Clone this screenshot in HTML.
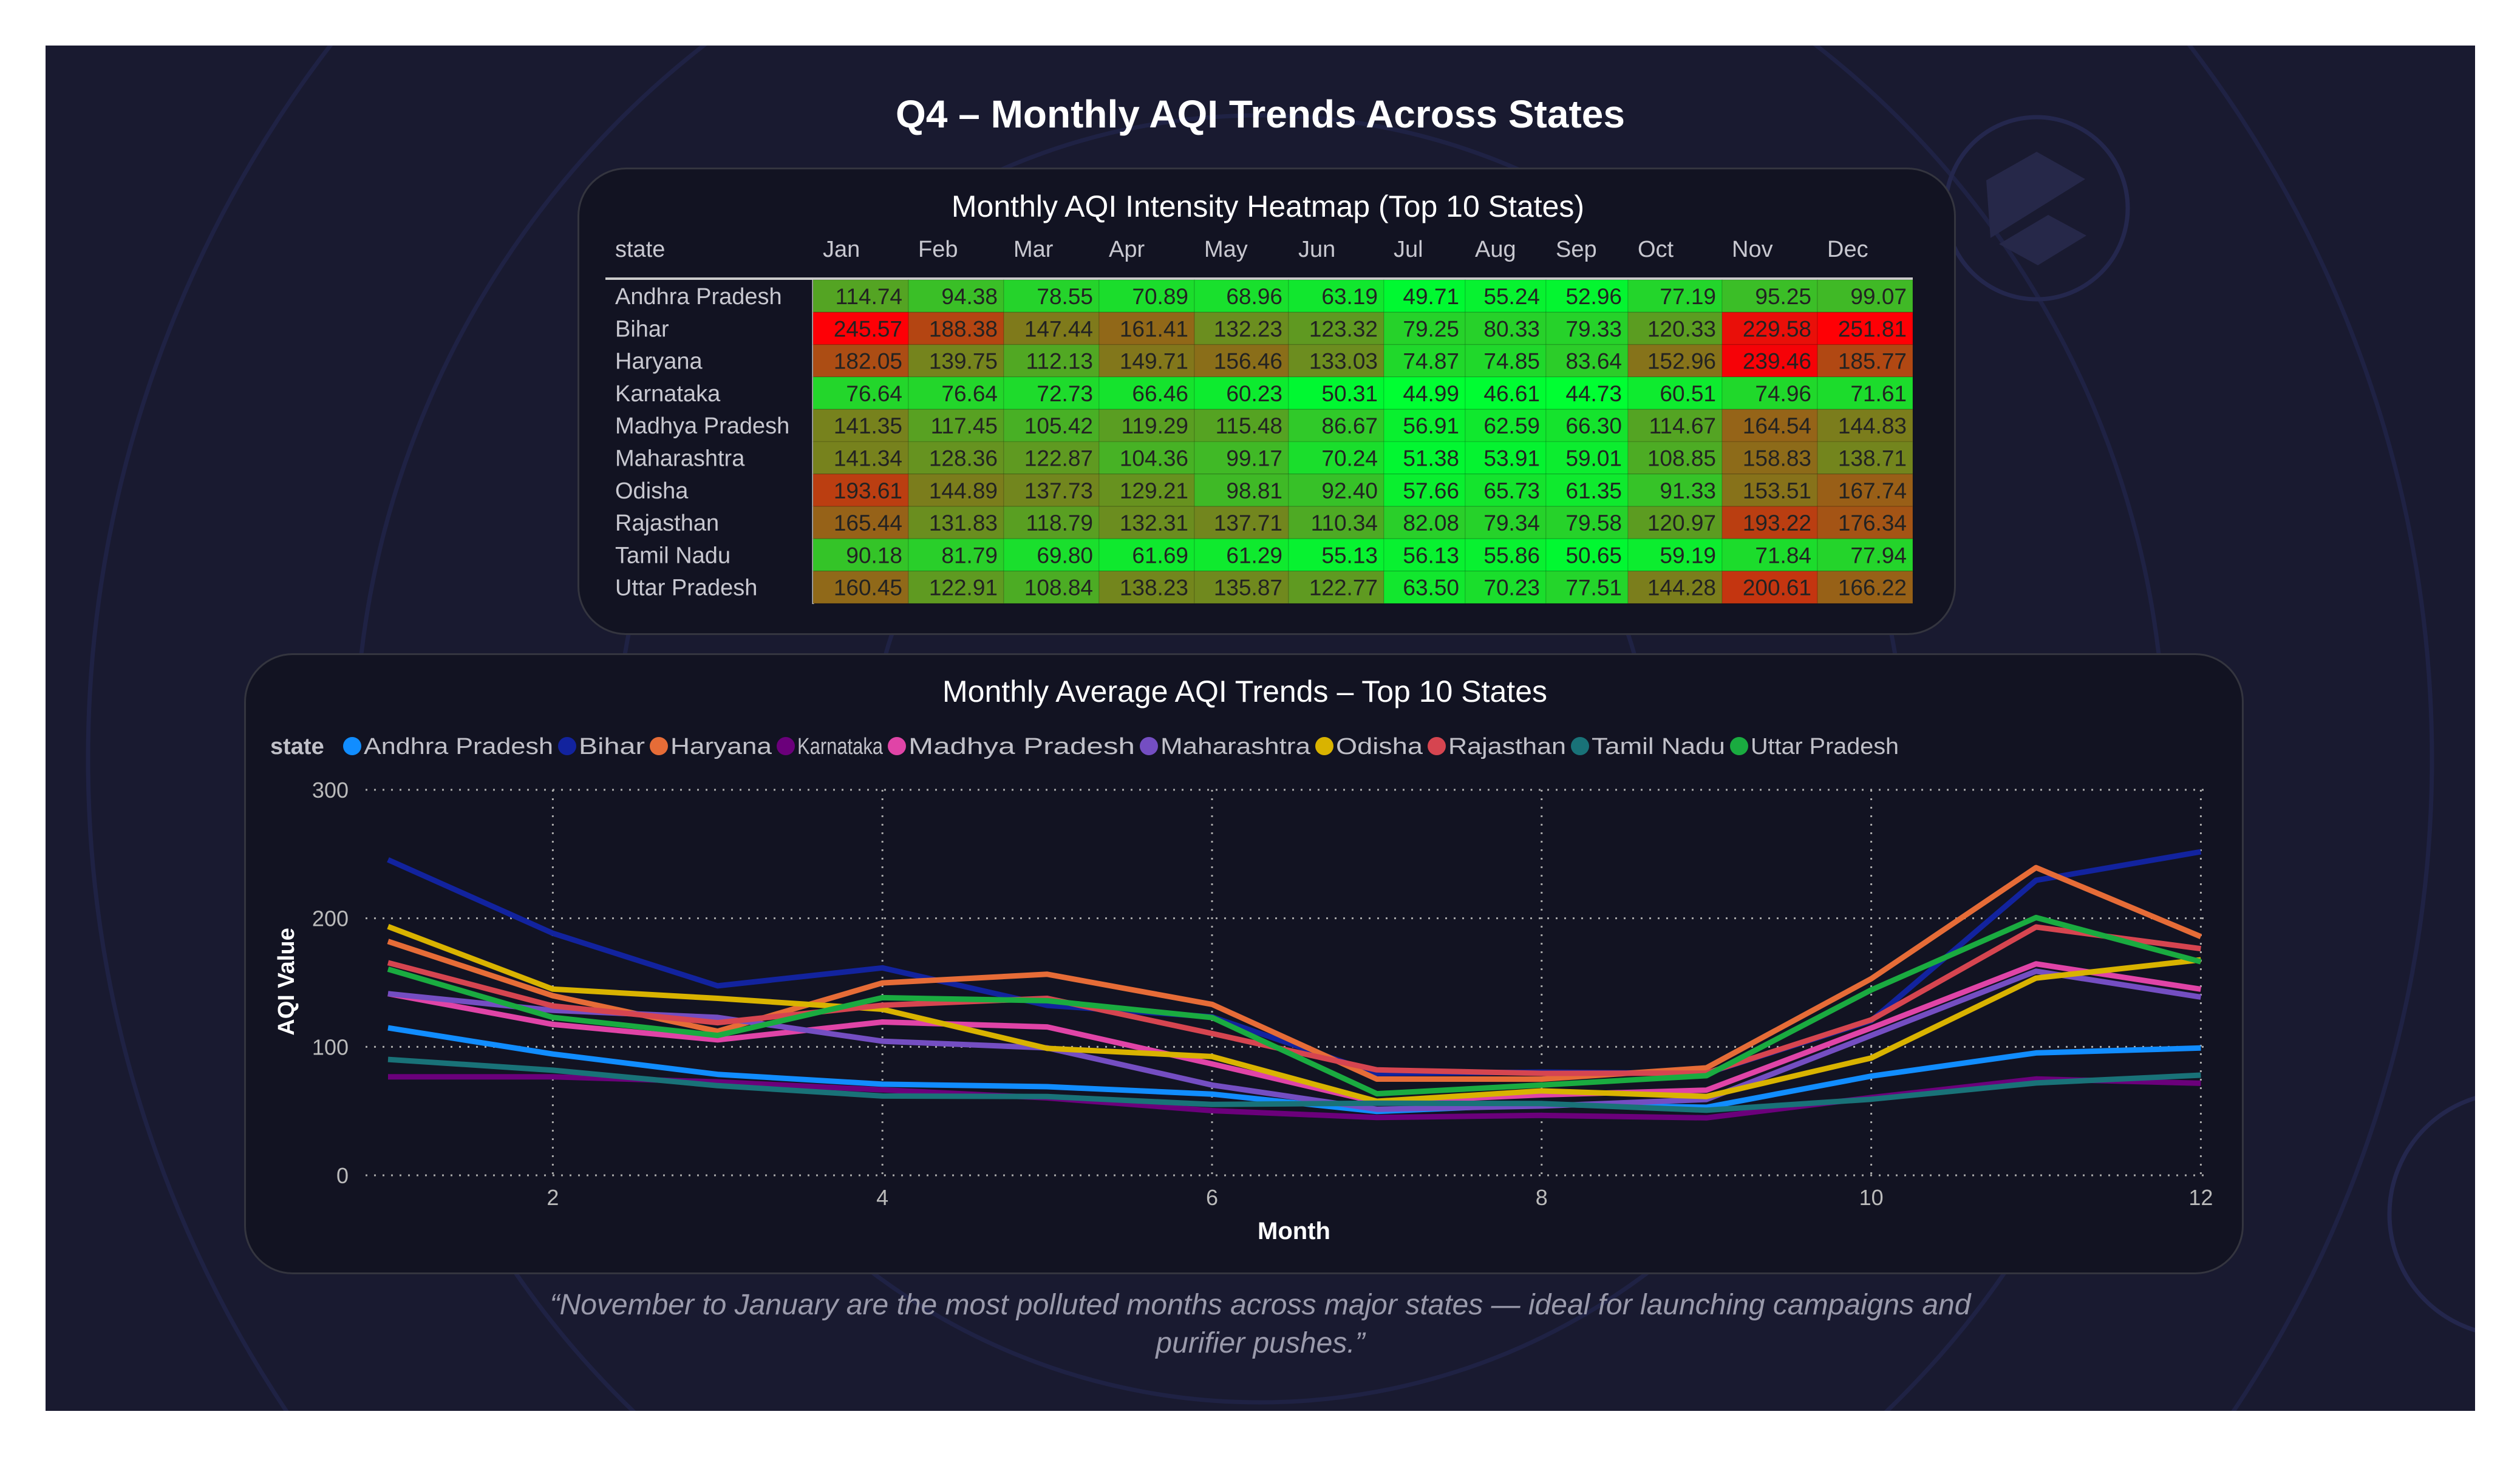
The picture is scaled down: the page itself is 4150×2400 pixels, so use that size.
<!DOCTYPE html>
<html><head><meta charset="utf-8">
<style>
html,body{margin:0;padding:0;background:#fff;width:4150px;height:2400px;overflow:hidden;}
body{position:relative;font-family:"Liberation Sans",sans-serif;}
#panel{position:absolute;left:75px;top:75px;width:4001px;height:2249px;background:#191a30;overflow:hidden;}
.card{position:absolute;background:#121322;border:3px solid #34353f;border-radius:80px;box-sizing:border-box;}
</style></head><body>
<div id="panel">
<svg width="4001" height="2249" style="position:absolute;left:0;top:0">
  <g fill="none" stroke="#1f2244" stroke-width="7">
    <circle cx="2000" cy="1175" r="640"/>
    <circle cx="2000" cy="1175" r="1060"/>
    <circle cx="2000" cy="1175" r="1490"/>
    <circle cx="2000" cy="1175" r="1930"/>
    <circle cx="3279" cy="268" r="150" stroke="#24274d"/>
    <circle cx="4060" cy="1925" r="200" stroke="#24274d"/>
  </g>
  <polygon points="3196,222 3279,175 3359,220 3203,317" fill="#262849"/>
  <polygon points="3298,279 3361,313 3281,362 3217,327" fill="#262849"/>
</svg>
<div style="position:absolute;left:0;width:4001px;top:76px;text-align:center;font-weight:bold;font-size:64px;color:#fff;">Q4 – Monthly AQI Trends Across States</div>

<div class="card" style="left:876px;top:201px;width:2270px;height:770px;"></div>
<div class="card" style="left:327px;top:1001px;width:3293px;height:1023px;"></div>

<div style="position:absolute;left:0;width:4001px;top:2043px;text-align:center;font-style:italic;font-size:48px;line-height:63px;color:#9a9aab;">“November to January are the most polluted months across major states — ideal for launching campaigns and<br>purifier pushes.”</div>
</div>

<svg id="heat" width="4150" height="2400" style="position:absolute;left:0;top:0"></svg>
<svg id="line" width="4150" height="2400" style="position:absolute;left:0;top:0"></svg>

<script>
const states = ["Andhra Pradesh","Bihar","Haryana","Karnataka","Madhya Pradesh","Maharashtra","Odisha","Rajasthan","Tamil Nadu","Uttar Pradesh"];
const months = ["Jan","Feb","Mar","Apr","May","Jun","Jul","Aug","Sep","Oct","Nov","Dec"];
const andhra = [114.74,94.38,78.55,70.89,68.96,63.19,49.71,55.24,52.96,77.19,95.25,99.07];
const bihar = [245.57,188.38,147.44,161.41,132.23,123.32,79.25,80.33,79.33,120.33,229.58,251.81];
const haryana = [182.05,139.75,112.13,149.71,156.46,133.03,74.87,74.85,83.64,152.96,239.46,185.77];
const karnataka = [76.64,76.64,72.73,66.46,60.23,50.31,44.99,46.61,44.73,60.51,74.96,71.61];
const madhya = [141.35,117.45,105.42,119.29,115.48,86.67,56.91,62.59,66.30,114.67,164.54,144.83];
const maharashtra = [141.34,128.36,122.87,104.36,99.17,70.24,51.38,53.91,59.01,108.85,158.83,138.71];
const odisha = [193.61,144.89,137.73,129.21,98.81,92.40,57.66,65.73,61.35,91.33,153.51,167.74];
const rajasthan = [165.44,131.83,118.79,132.31,137.71,110.34,82.08,79.34,79.58,120.97,193.22,176.34];
const tamil = [90.18,81.79,69.80,61.69,61.29,55.13,56.13,55.86,50.65,59.19,71.84,77.94];
const uttar = [160.45,122.91,108.84,138.23,135.87,122.77,63.50,70.23,77.51,144.28,200.61,166.22];
const yTicks = [0,100,200,300];
const xTicks = [2,4,6,8,10,12];
const series = [andhra,bihar,haryana,karnataka,madhya,maharashtra,odisha,rajasthan,tamil,uttar];
const colors = ["#118dff","#12239e","#e66c37","#6b007b","#e044a7","#744ec2","#d9b300","#d64550","#197278","#1aab40"];

const NS="http://www.w3.org/2000/svg";
function mk(parent,tag,attrs,text){const e=document.createElementNS(NS,tag);for(const k in attrs)e.setAttribute(k,attrs[k]);if(text!==undefined)e.textContent=text;parent.appendChild(e);return e;}
function fmt(v){return v.toFixed(2);}
function clamp(v){return Math.max(0,Math.min(255,Math.round(v)));}
function heatColor(v){return `rgb(${clamp(1.3*(v-50))},${clamp(255-1.3*(v-45))},${clamp(50-0.22*(v-45))})`;}

// ---------- heatmap ----------
const H=document.getElementById('heat');
const colEdges=[1339,1496,1653,1810,1967,2122,2279,2413,2546,2681,2836,2993,3150];
const rowTop=461, rowH=53.3;
let t=mk(H,'text',{x:2088,y:357,'text-anchor':'middle','font-size':50,fill:'#fff'},'Monthly AQI Intensity Heatmap (Top 10 States)');


t=mk(H,'text',{x:1013,y:423,'font-size':38,fill:'#c8c8d0'},'state');


months.forEach((m,i)=>{
  const e=mk(H,'text',{x:colEdges[i]+16,y:423,'font-size':38,fill:'#c8c8d0'},m);
  
  
});
t=mk(H,'line',{x1:997,x2:3150,y1:459,y2:459,stroke:'#ccc','stroke-width':4});


mk(H,'line',{x1:1339,x2:1339,y1:461,y2:995,stroke:'#ccc','stroke-width':3});
states.forEach((s,r)=>{
  const y=rowTop+r*rowH;
  const lab=mk(H,'text',{x:1013,y:y+40,'font-size':38,fill:'#c8c8d0'},s);
  
  
  series[r].forEach((v,c)=>{
    const x=colEdges[c], w=colEdges[c+1]-colEdges[c];
    const cell=mk(H,'rect',{x:x,y:y,width:w,height:rowH,fill:heatColor(v),stroke:'rgba(0,0,0,0.12)','stroke-width':1.5});
    
    
    const tx=mk(H,'text',{x:x+w-10,y:y+40,'text-anchor':'end','font-size':37,fill:'#222'},fmt(v));
    
    
  });
});

// ---------- line chart ----------
const L=document.getElementById('line');
const X0=639, XS=271.4, Y0=1936, YT=1301;
function xp(m){return X0+(m-1)*XS;}
function yp(v){return Y0-(v/300)*(Y0-YT);}
t=mk(L,'text',{x:2050,y:1156,'text-anchor':'middle','font-size':50,fill:'#fff'},'Monthly Average AQI Trends – Top 10 States');


t=mk(L,'text',{x:445,y:1242,'font-size':38,'font-weight':'bold',fill:'#c0c0c8'},'state');


const dotX=[580,934,1085,1294,1477,1892,2181,2366,2602,2864,3150];
states.forEach((s,i)=>{
  const g=mk(L,'g',{});
  
  
  mk(g,'circle',{cx:dotX[i],cy:1229,r:15,fill:colors[i]});
  mk(g,'text',{x:dotX[i]+19,y:1242,'font-size':38,fill:'#c0c0c8',textLength:dotX[i+1]-dotX[i]-42,lengthAdjust:'spacingAndGlyphs'},s);
});
yTicks.forEach(v=>{
  const gl=mk(L,'line',{x1:602,x2:3640,y1:yp(v),y2:yp(v),stroke:'#aaa','stroke-width':3,'stroke-dasharray':'3 11'});
  
  
  const tl=mk(L,'text',{x:574,y:yp(v)+13,'text-anchor':'end','font-size':36,fill:'#bbb'},String(v));
  
  
});
xTicks.forEach(m=>{
  const gl=mk(L,'line',{x1:xp(m),x2:xp(m),y1:YT,y2:Y0,stroke:'#aaa','stroke-width':3,'stroke-dasharray':'3 11'});
  
  
  const tl=mk(L,'text',{x:xp(m),y:1985,'text-anchor':'middle','font-size':36,fill:'#bbb'},String(m));
  
  
});
t=mk(L,'text',{x:2131,y:2041,'text-anchor':'middle','font-size':40,'font-weight':'bold',fill:'#fff'},'Month');


t=mk(L,'text',{x:0,y:0,transform:'translate(484,1617) rotate(-90)','text-anchor':'middle','font-size':38,'font-weight':'bold',fill:'#fff'},'AQI Value');


series.forEach((arr,i)=>{
  const pts=arr.map((v,k)=>xp(k+1).toFixed(1)+','+yp(v).toFixed(1)).join(' ');
  const pl=mk(L,'polyline',{points:pts,fill:'none',stroke:colors[i],'stroke-width':9,'stroke-linejoin':'round'});
  
  
});
</script>
</body></html>
